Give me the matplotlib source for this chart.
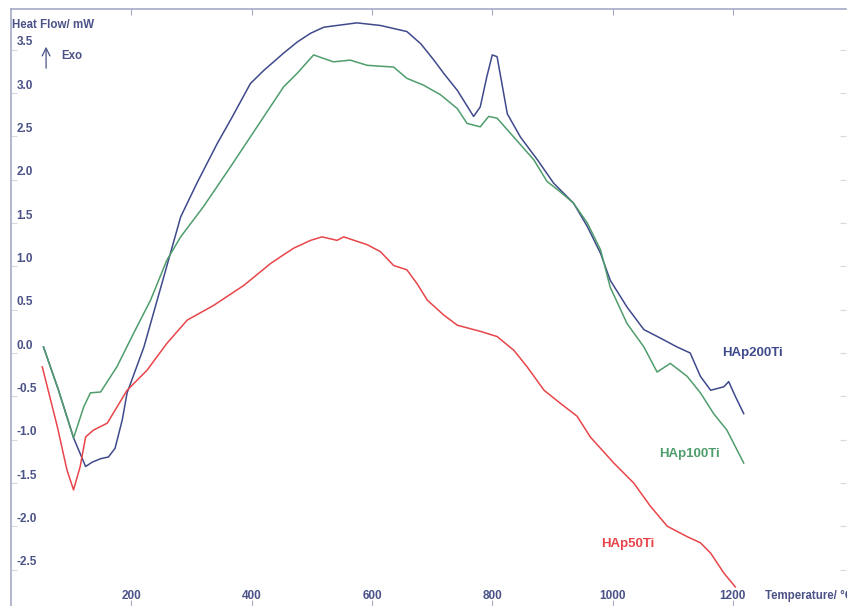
import matplotlib
matplotlib.use('Agg')
import matplotlib.pyplot as plt

plt.rcParams['font.family'] = ['Liberation Sans', 'DejaVu Sans']

# Данные (температура, °C / тепловой поток, мВт)
t_200 = [54, 79, 104, 124, 135, 149, 162, 173, 185, 193, 221, 254, 282, 309, 343, 365,
         398, 420, 453, 476, 498, 520, 575, 614, 658, 681, 703, 719, 742, 769, 780, 791,
         800, 808, 816, 825, 847, 875, 902, 935, 958, 980, 996, 1024, 1052, 1080, 1107,
         1129, 1146, 1163, 1185, 1193, 1204, 1218]
hf_200 = [0.07, -0.43, -0.98, -1.31, -1.26, -1.22, -1.20, -1.10, -0.77, -0.46, 0.07, 0.88,
          1.57, 1.96, 2.42, 2.69, 3.11, 3.26, 3.46, 3.59, 3.69, 3.76, 3.81, 3.78, 3.71, 3.57,
          3.38, 3.23, 3.03, 2.73, 2.84, 3.19, 3.44, 3.42, 3.11, 2.76, 2.49, 2.23, 1.96, 1.73,
          1.46, 1.15, 0.84, 0.53, 0.27, 0.17, 0.07, 0.00, -0.27, -0.43, -0.39, -0.33, -0.50,
          -0.70]

t_100 = [54, 79, 104, 121, 132, 149, 176, 204, 232, 259, 282, 320, 365, 409, 453, 476,
         503, 536, 564, 592, 636, 658, 686, 714, 742, 758, 780, 794, 808, 836, 869, 891,
         913, 935, 958, 980, 996, 1024, 1052, 1074, 1096, 1124, 1146, 1168, 1190, 1218]
hf_100 = [0.07, -0.43, -0.98, -0.62, -0.46, -0.45, -0.16, 0.23, 0.61, 1.07, 1.34, 1.69,
          2.15, 2.61, 3.07, 3.23, 3.44, 3.36, 3.38, 3.32, 3.30, 3.17, 3.09, 2.98, 2.82, 2.65,
          2.61, 2.73, 2.71, 2.49, 2.23, 1.98, 1.86, 1.73, 1.50, 1.19, 0.76, 0.34, 0.07, -0.22,
          -0.12, -0.27, -0.46, -0.70, -0.89, -1.27]

t_50 = [52, 77, 93, 104, 115, 124, 137, 160, 193, 226, 259, 293, 337, 387, 431, 448, 470,
        498, 517, 542, 553, 592, 614, 636, 658, 675, 692, 719, 742, 780, 808, 836, 858, 886,
        913, 941, 963, 1002, 1035, 1063, 1091, 1124, 1146, 1163, 1185, 1204]
hf_50 = [-0.16, -0.85, -1.35, -1.58, -1.31, -0.97, -0.89, -0.81, -0.43, -0.20, 0.11, 0.38,
         0.55, 0.78, 1.03, 1.11, 1.21, 1.30, 1.34, 1.30, 1.34, 1.25, 1.17, 1.01, 0.96, 0.80,
         0.61, 0.44, 0.32, 0.25, 0.19, 0.03, -0.16, -0.43, -0.58, -0.73, -0.97, -1.27, -1.50,
         -1.77, -2.00, -2.12, -2.19, -2.31, -2.54, -2.70]

x_ticks = [200, 400, 600, 800, 1000, 1200]
y_ticks = [3.5, 3.0, 2.5, 2.0, 1.5, 1.0, 0.5, 0.0, -0.5, -1.0, -1.5, -2.0, -2.5]

c_blue = '#3f4a8c'
c_green = '#4f9d6c'
c_red = '#e8454a'
c_text = '#4a5287'
c_axis = '#a4a9c6'

fig = plt.figure(figsize=(8.47, 6.06), dpi=100)
ax = fig.add_axes([11 / 847, 0.0, 835 / 847, 597 / 606])

ax.plot(t_200, hf_200, color=c_blue, lw=1.1)
ax.plot(t_100, hf_100, color=c_green, lw=1.1)
ax.plot(t_50, hf_50, color=c_red, lw=1.1)

ax.set_xlim(0, 1388)
ax.set_ylim(-2.92, 3.97)

# Рамки
for side in ['bottom', 'right']:
    ax.spines[side].set_visible(False)
for side in ['top', 'left']:
    ax.spines[side].set_color(c_axis)
    ax.spines[side].set_linewidth(1.2)

ax.set_xticks(x_ticks)
ax.set_yticks(y_ticks)
ax.set_xticklabels([])
ax.set_yticklabels([])
ax.tick_params(axis='both', direction='in', length=4, color=c_axis,
               top=True, bottom=True, left=True, right=True)
ax.tick_params(axis='y', which='both', right=True, color='#d8d8e0')
ax.tick_params(axis='y', left=True, labelleft=False)

# Подписи делений внутри осей
for v in y_ticks:
    ax.annotate(f'{v:.1f}', xy=(0, v), xycoords=('axes fraction', 'data'),
                xytext=(4, 1), textcoords='offset points', ha='left', va='bottom',
                fontsize=8.5, fontweight='bold', color=c_text)
for t in x_ticks:
    ax.annotate(f'{t}', xy=(t, 0), xycoords=('data', 'axes fraction'),
                xytext=(0, 3), textcoords='offset points', ha='center', va='bottom',
                fontsize=8.5, fontweight='bold', color=c_text)

ax.annotate('Temperature/ °C', xy=(1254, 0), xycoords=('data', 'axes fraction'),
            xytext=(0, 3), textcoords='offset points', ha='left', va='bottom',
            fontsize=8.3, fontweight='bold', color=c_text, annotation_clip=False)
ax.annotate('Heat Flow/ mW', xy=(0, 1), xycoords='axes fraction',
            xytext=(1, -16), textcoords='offset points', ha='left', va='bottom',
            fontsize=8.3, fontweight='bold', color=c_text)
ax.annotate('', xy=(0.042, 0.985 - 26 / 597), xycoords='axes fraction',
            xytext=(0.042, 0.985 - 53 / 597),
            arrowprops=dict(arrowstyle='->', color=c_text, lw=0.9, mutation_scale=14))
ax.annotate('Exo', xy=(0, 1), xycoords='axes fraction',
            xytext=(36, -38), textcoords='offset points', ha='left', va='bottom',
            fontsize=8.3, fontweight='bold', color=c_text)

# Подписи кривых
ax.text(1232, 0.0, 'HAp200Ti', color=c_blue, fontsize=9.5, fontweight='bold',
        ha='center', va='center')
ax.text(1128, -1.16, 'HAp100Ti', color=c_green, fontsize=9.5, fontweight='bold',
        ha='center', va='center')
ax.text(1025, -2.21, 'HAp50Ti', color=c_red, fontsize=9.5, fontweight='bold',
        ha='center', va='center')

plt.savefig('out.png', dpi=100)
